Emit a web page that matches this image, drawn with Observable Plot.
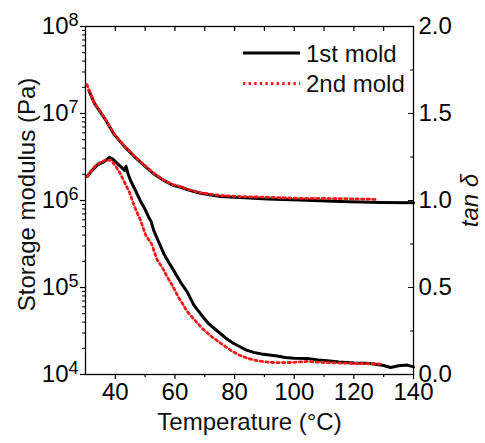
<!DOCTYPE html>
<html><head><meta charset="utf-8">
<script src="https://cdn.jsdelivr.net/npm/d3@7"></script>
<script src="https://cdn.jsdelivr.net/npm/@observablehq/plot@0.6"></script>
<style>
body{margin:0;background:#fff;}
#chart{position:relative;width:485px;height:443px;overflow:hidden;background:#fff;}
#chart svg{position:absolute;left:0;top:0;}
</style></head><body><div id="chart"></div>
<script>
// Storage modulus (Pa), left log axis
const modT1 = [31.1, 33, 36.4, 39.7, 43.1, 46.4, 49.8, 53.1, 56.5, 59.3, 61.9, 65.2, 68.6, 75.3, 82, 91, 101.6, 115.5, 129, 140];
const modV1 = [1.85e7, 1.31e7, 8.81e6, 5.68e6, 4.16e6, 3.19e6, 2.5e6, 2.0e6, 1.68e6, 1.5e6, 1.42e6, 1.30e6, 1.21e6, 1.11e6, 1.08e6, 1.04e6, 1.01e6, 0.977e6, 0.95e6, 0.944e6];
const modT2 = [30.5, 33, 36.4, 39.7, 43.1, 46.4, 49.8, 53.1, 56.5, 59.3, 62, 65.2, 68.6, 75.3, 82, 91, 101.6, 115.5, 128];
const modV2 = [2.15e7, 1.32e7, 8.91e6, 5.75e6, 4.22e6, 3.24e6, 2.53e6, 2.03e6, 1.70e6, 1.52e6, 1.44e6, 1.32e6, 1.23e6, 1.14e6, 1.11e6, 1.09e6, 1.06e6, 1.05e6, 1.03e6];
// tan delta, right linear axis
const tanT1 = [30.6, 31.9, 34.1, 36.4, 38.0, 39.2, 40.8, 42.0, 43.1, 43.6, 44.2, 45.1, 46.8, 48.4, 50.1, 51.2, 52.0, 52.9, 54.6, 56.3, 57.9, 59.6, 61.9, 64.1, 66.3, 68.6, 71.3, 74.2, 77, 79.7, 82.0, 84, 86.4, 89, 91, 94.3, 97, 100, 104.3, 108, 111.1, 115, 120, 124, 126.7, 130, 132.3, 135, 137.9, 140];
const tanV1 = [1.138, 1.167, 1.206, 1.225, 1.248, 1.238, 1.211, 1.192, 1.173, 1.196, 1.157, 1.115, 1.056, 0.998, 0.945, 0.904, 0.880, 0.827, 0.760, 0.693, 0.645, 0.597, 0.530, 0.475, 0.400, 0.348, 0.292, 0.250, 0.210, 0.178, 0.158, 0.140, 0.127, 0.118, 0.114, 0.106, 0.098, 0.094, 0.092, 0.084, 0.079, 0.072, 0.066, 0.064, 0.060, 0.052, 0.040, 0.050, 0.054, 0.044];
const tanT2 = [30.6, 32.5, 34.1, 36.4, 38.6, 40.3, 41.4, 42.5, 43.6, 44.8, 45.9, 47.0, 48.5, 50.2, 52.2, 54.0, 55.9, 57.6, 59.2, 61.3, 62.8, 64.1, 66.3, 69.0, 71.9, 75.3, 78.6, 81.5, 84.5, 87.6, 91, 94, 98.7, 104.3, 109.9, 115.5, 122.2, 128.9];
const tanV2 = [1.138, 1.185, 1.211, 1.230, 1.232, 1.192, 1.163, 1.125, 1.086, 1.045, 0.990, 0.942, 0.885, 0.800, 0.750, 0.660, 0.610, 0.555, 0.510, 0.440, 0.400, 0.362, 0.319, 0.268, 0.223, 0.180, 0.140, 0.112, 0.092, 0.079, 0.071, 0.068, 0.069, 0.075, 0.069, 0.066, 0.063, 0.060];

const seriesNames = ["1st mold", "2nd mold"];
const xLabel = "Temperature (°C)";
const yLabel = "Storage modulus (Pa)";
const y2Label = "tan δ";
const xMajorTicks = [40, 60, 80, 100, 120, 140];
const xMinorTicks = [50, 70, 90, 110, 130];
const xTopTicks = [40, 50, 60, 70, 80, 90, 100, 110, 120, 130];
const yLeftMajor = [1e4, 1e5, 1e6, 1e7, 1e8];
const yLeftMinor = [4, 5, 6, 7].flatMap(e => [2, 3, 4, 5, 6, 7, 8, 9].map(k => k * 10 ** e));
const yRightMajor = [0, 0.5, 1, 1.5, 2];
const yRightMinor = [0.25, 0.75, 1.25, 1.75];

const zip = (t, v) => t.map((d, i) => ({t: d, v: v[i]}));
const BLACK = "#000", RED = "#ee1c1c", DOTS = "2.4,3.2";
const W = 485, H = 443, ML = 85, MR = 72, MT = 26, MB = 69;
const FONT = "'Liberation Sans', Arial, Helvetica, sans-serif";
const TICKFS = 24, LABELFS = 24;
const tickShape = {draw(ctx, l) { ctx.moveTo(0, 0); ctx.lineTo(0, -l); }};
const common = {
  width: W, height: H, marginLeft: ML, marginRight: MR, marginTop: MT, marginBottom: MB,
  style: {fontFamily: FONT, background: "transparent", color: "#000", overflow: "visible"}
};

const p1 = Plot.plot({
  ...common,
  x: {domain: [30, 140]},
  y: {type: "log", domain: [1e4, 1e8]},
  marks: [
    Plot.axisX(xMajorTicks, {tickSize: 5, tickPadding: 3, fontSize: TICKFS, label: null, strokeWidth: 1.2}),
    Plot.axisX(xMinorTicks, {tickSize: 3, tickFormat: () => "", label: null, strokeWidth: 1.2}),
    Plot.vector(xTopTicks, {x: d => d, frameAnchor: "top", length: 4, rotate: 180, anchor: "start", shape: tickShape, stroke: BLACK, strokeWidth: 1.2}),
    Plot.axisY(yLeftMajor, {tickSize: 5, tickPadding: 2, fontSize: TICKFS, label: null, strokeWidth: 1.2, tickFormat: d => String(Math.round(Math.log10(d)))}),
    Plot.axisY(yLeftMinor, {tickSize: 3, tickFormat: () => "", label: null, strokeWidth: 1}),
    Plot.frame({stroke: BLACK, strokeWidth: 1.3}),
    Plot.line(zip(modT1, modV1), {x: "t", y: "v", stroke: BLACK, strokeWidth: 3}),
    Plot.line(zip(modT2, modV2), {x: "t", y: "v", stroke: RED, strokeWidth: 2.8, strokeDasharray: DOTS}),
    Plot.text([xLabel], {frameAnchor: "bottom", dy: 55, fontSize: LABELFS, text: d => d, fill: "#111", textAnchor: "middle"}),
    Plot.text([yLabel], {frameAnchor: "left", dx: -58, dy: -6, rotate: -90, fontSize: LABELFS, text: d => d, fill: "#111", textAnchor: "middle"})
  ]
});

const p2 = Plot.plot({
  ...common,
  x: {domain: [30, 140], axis: null},
  y: {domain: [0, 2]},
  marks: [
    Plot.axisY(yRightMajor, {anchor: "right", tickSize: 0, tickPadding: 5, fontSize: TICKFS, label: null, tickFormat: d3.format(".1f")}),
    Plot.vector(yRightMajor, {y: d => d, frameAnchor: "right", length: 5, rotate: -90, anchor: "start", shape: tickShape, stroke: BLACK, strokeWidth: 1.2}),
    Plot.vector(yRightMinor, {y: d => d, frameAnchor: "right", length: 3, rotate: -90, anchor: "start", shape: tickShape, stroke: BLACK, strokeWidth: 1.2}),
    Plot.line(zip(tanT1, tanV1), {x: "t", y: "v", stroke: BLACK, strokeWidth: 3}),
    Plot.line(zip(tanT2, tanV2), {x: "t", y: "v", stroke: RED, strokeWidth: 2.8, strokeDasharray: DOTS}),
    Plot.text([y2Label], {frameAnchor: "right", dx: 57, rotate: -90, fontSize: LABELFS, fontStyle: "italic", text: d => d, fill: "#111", textAnchor: "middle"})
  ]
});

const chart = document.getElementById("chart");
chart.appendChild(p1);
chart.appendChild(p2);

// superscript exponents on the log axis
d3.select(p1).selectAll('g[aria-label="y-axis tick label"] text').each(function () {
  const s = this.textContent;
  if (!s) return;
  const t = d3.select(this);
  t.text("10");
  t.append("tspan").attr("font-size", 18).attr("dy", "-0.45em").text(s);
});

// legend
const lg = d3.select(p2).append("g").attr("font-family", FONT).attr("font-size", 24)
  .attr("fill", "#111").attr("text-anchor", "start");
const legendRows = [{name: seriesNames[0], color: BLACK, dash: null, w: 3, y: 53},
                    {name: seriesNames[1], color: RED, dash: DOTS, w: 2.8, y: 83.5}];
legendRows.forEach(r => {
  lg.append("line").attr("x1", 243).attr("x2", 300).attr("y1", r.y).attr("y2", r.y)
    .attr("stroke", r.color).attr("stroke-width", r.w).attr("stroke-dasharray", r.dash);
  lg.append("text").attr("x", 306).attr("y", r.y + 8.5).attr("text-anchor", "start").text(r.name);
});
</script></body></html>
